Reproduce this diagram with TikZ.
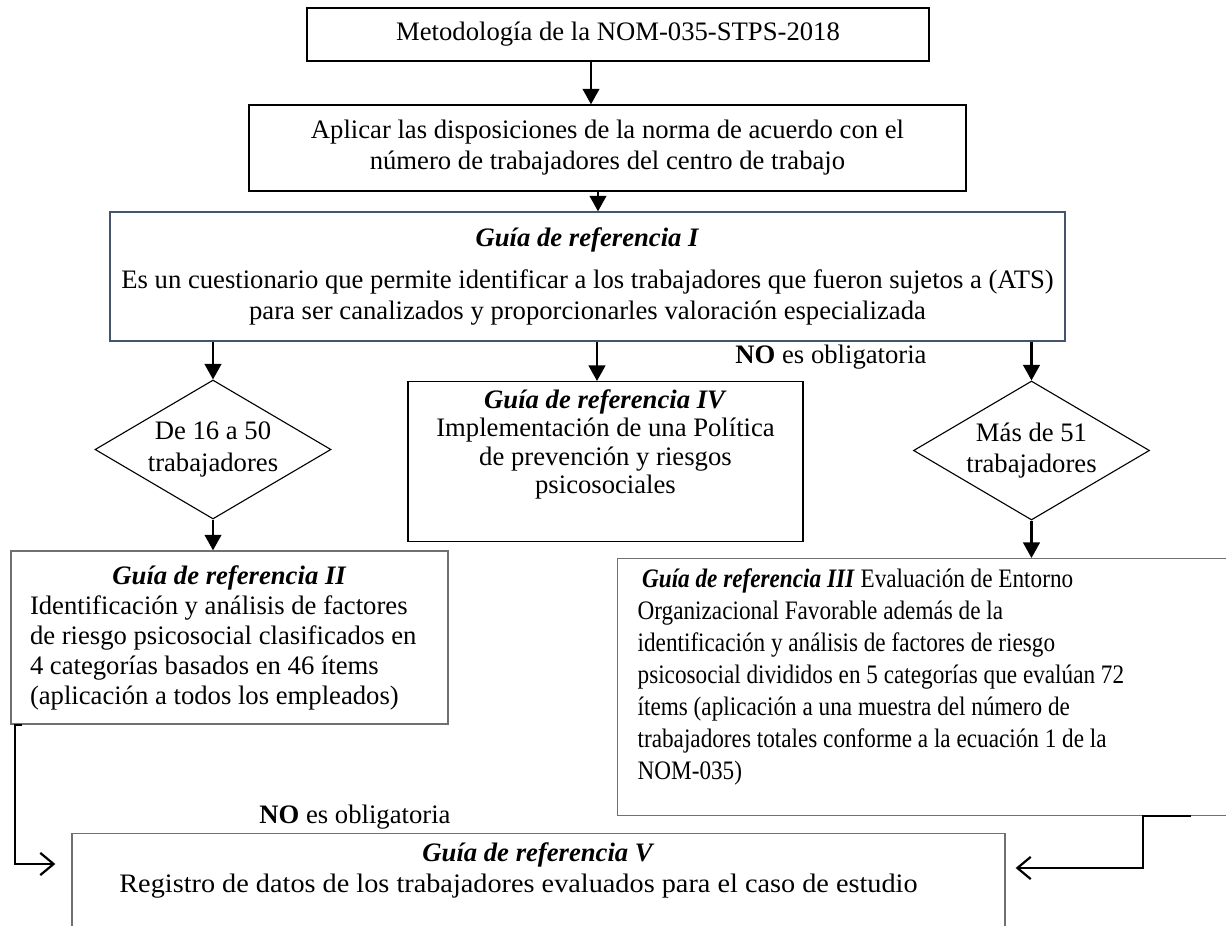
\documentclass[tikz,border=0pt]{standalone}
\usepackage{fontspec}
\setmainfont{Liberation Serif}
\newfontfamily\narrowserif[FakeStretch=0.87]{Liberation Serif}
\newfontfamily\wideserif[FakeStretch=1.06]{Liberation Serif}
\usetikzlibrary{shapes.geometric, arrows.meta, positioning, calc}
\definecolor{slate}{RGB}{68,84,106}
\definecolor{boxgray}{RGB}{112,112,112}
\newcommand{\pxu}{0.45pt}
\newcommand{\drop}[1]{\rule[-#1]{0pt}{#1}}
\tikzstyle{process} = [rectangle, draw=black, line width=0.6pt, align=center, inner sep=0pt]
\tikzstyle{guia} = [rectangle, draw=boxgray, line width=0.6pt, inner sep=0pt]
\tikzstyle{decision} = [diamond, draw=black, line width=0.5pt, align=center, aspect=1.7, inner sep=0pt, minimum width=236*\pxu, minimum height=139*\pxu]
\tikzstyle{note} = [inner sep=0pt]
\tikzstyle{arrow} = [line width=1pt, -{Triangle[length=7pt,width=7.5pt]}]
\tikzstyle{openarrow} = [line width=1pt, -{Straight Barb[length=6pt,width=10pt]}]

\begin{document}
\begin{tikzpicture}[x=\pxu, y=-\pxu, font=\fontsize{12pt}{14pt}\selectfont]
\useasboundingbox (0,0) rectangle (1226,926);
\clip (0,0) rectangle (1226,926);

% Nodes
\node (metodo) [process, minimum width=622*\pxu, minimum height=53*\pxu] at (618,34.5) {Metodología de la NOM-035-STPS-2018};
\node (aplicar) [process, minimum width=717*\pxu, minimum height=86*\pxu] at (607.5,148) {Aplicar las disposiciones de la norma de acuerdo con el\\número de trabajadores del centro de trabajo};
\node (guiaI) [process, draw=slate, minimum width=955*\pxu, minimum height=129*\pxu] at (587.5,276.5) {\textbf{\textit{Guía de referencia I}}\\[5pt]Es un cuestionario que permite identificar a los trabajadores que fueron sujetos a (ATS)\\para ser canalizados y proporcionarles valoración especializada};
\node (menos) [decision] at (213,449.5) {De 16 a 50\\trabajadores};
\node (guiaIV) [process, anchor=north, minimum width=395*\pxu, inner ysep=8*\pxu, font=\fontsize{12pt}{12.8pt}\selectfont] at (605.5,381) {\textbf{\textit{Guía de referencia IV}}\\Implementación de una Política\\de prevención y riesgos\\psicosociales\drop{18pt}};
\node (mas) [decision] at (1031.5,450.5) {Más de 51\\trabajadores};
\node (nosup) [note, anchor=east] at (927,357) {\textbf{NO} es obligatoria};
\node (guiaII) [guia, align=flush left, text width=399*\pxu, minimum width=437*\pxu, minimum height=173*\pxu, font=\fontsize{12pt}{13.5pt}\selectfont] at (229.5,637.5) {\makebox[\hsize]{\textbf{\textit{Guía de referencia II}}}\\Identificación y análisis de factores\\de riesgo psicosocial clasificados en\\4 categorías basados en 46 ítems\\(aplicación a todos los empleados)};
\node (guiaIII) [guia, align=flush left, anchor=north west, text width=600*\pxu, inner xsep=20*\pxu, inner ysep=10*\pxu, font=\narrowserif\fontsize{12pt}{14.4pt}\selectfont] at (617,558) {\hspace*{2pt}\textbf{\textit{Guía de referencia III}} Evaluación de Entorno\\Organizacional Favorable además de la\\identificación y análisis de factores de riesgo\\psicosocial divididos en 5 categorías que evalúan 72\\ítems (aplicación a una muestra del número de\\trabajadores totales conforme a la ecuación 1 de la\\NOM-035)\drop{11.7pt}};
\node (noinf) [note] at (355,817) {\textbf{NO} es obligatoria};
\node (guiaV) [guia, align=center, anchor=north, minimum width=933*\pxu, inner ysep=9*\pxu] at (538.5,833) {\textbf{\textit{Guía de referencia V}}\\{\wideserif Registro de datos de los trabajadores evaluados para el caso de estudio}\hspace*{18pt}\drop{60pt}};

% Arrows
\coordinate (xa) at (591,0);
\coordinate (xb) at (598,0);
\coordinate (xc) at (597,0);
\coordinate (izq) at (15,864);
\coordinate (der) at (1143,868);
\draw [arrow] (metodo.south -| xa) -- (aplicar.north -| xa);
\draw [arrow] (aplicar.south -| xb) -- (guiaI.north -| xb);
\draw [arrow] (guiaI.south -| menos.north) -- (menos.north);
\draw [arrow] (guiaI.south -| xc) -- (guiaIV.north -| xc);
\draw [arrow] (guiaI.south -| mas.north) -- (mas.north);
\draw [arrow] (menos.south) -- (guiaII.north -| menos.south);
\draw [arrow] (mas.south) -- (guiaIII.north -| mas.south);
\draw [openarrow] ($(guiaII.south west)+(12,0)$) -| (izq) -- ($(guiaV.west |- izq)+(-16,0)$);
\draw [openarrow] ($(guiaIII.south west)+(574,0)$) -| (der) -- ($(guiaV.east |- der)+(10,0)$);

\end{tikzpicture}
\end{document}
